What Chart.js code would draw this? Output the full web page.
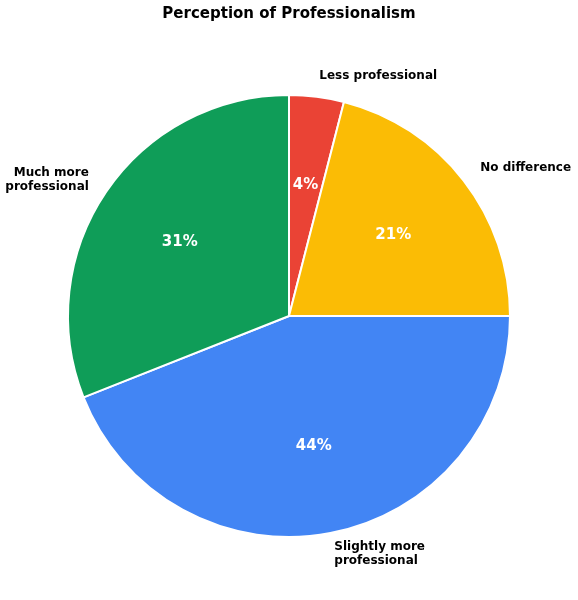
<!DOCTYPE html>
<html>
<head>
  <title>Perception of Professionalism</title>
  <script src="https://cdn.jsdelivr.net/npm/chart.js"></script>
</head>
<body style="margin: 0; background: white;">
  <canvas id="pieChart" width="578" height="600" style="display: block;"></canvas>
  <script>
    const categories = ['Less professional', 'No difference', 'Slightly more\nprofessional', 'Much more\nprofessional'];
    const shares = [4, 21, 44, 31];
    const colors = ['#EA4335', '#FBBC05', '#4285F4', '#0F9D58'];

    const FONT = '"DejaVu Sans", sans-serif';

    // title, outside labels (matplotlib style, 1.1 r) and percentages (0.6 r)
    const labelPlugin = {
      id: 'labels',
      afterDraw(chart) {
        const ctx = chart.ctx;
        ctx.save();
        ctx.fillStyle = '#000';
        ctx.font = 'bold 15px ' + FONT;
        ctx.textAlign = 'center';
        ctx.textBaseline = 'middle';
        ctx.fillText('Perception of Professionalism', 289, 14);

        const total = shares.reduce((a, b) => a + b, 0);
        chart.getDatasetMeta(0).data.forEach((arc, i) => {
          const p = arc.getProps(['x', 'y', 'startAngle', 'endAngle', 'outerRadius'], true);
          const r = 220;
          const mid = (p.startAngle + p.endAngle) / 2;
          const cos = Math.cos(mid), sin = Math.sin(mid);

          // label
          const lx = p.x + cos * r * 1.1;
          const ly = p.y + sin * r * 1.1;
          const lines = categories[i].split('\n');
          ctx.font = 'bold 12px ' + FONT;
          ctx.fillStyle = '#000';
          ctx.textAlign = cos >= 0 ? 'left' : 'right';
          const lh = 14;
          lines.forEach((ln, k) => {
            ctx.fillText(ln, lx, ly + (k - (lines.length - 1) / 2) * lh);
          });

          // percentage
          const px = p.x + cos * r * 0.6;
          const py = p.y + sin * r * 0.6;
          ctx.font = 'bold 15px ' + FONT;
          ctx.fillStyle = '#fff';
          ctx.textAlign = 'center';
          ctx.fillText(Math.round(shares[i] / total * 100) + '%', px, py);
        });
        ctx.restore();
      }
    };

    const ctx = document.getElementById('pieChart').getContext('2d');
    new Chart(ctx, {
      type: 'pie',
      data: {
        labels: categories,
        datasets: [{
          data: shares,
          backgroundColor: colors,
          borderColor: '#ffffff',
          borderWidth: 2
        }]
      },
      options: {
        responsive: false,
        animation: false,
        layout: { padding: { top: 94, bottom: 62, left: 0, right: 0 } },
        plugins: {
          legend: { display: false },
          tooltip: { enabled: false }
        }
      },
      plugins: [labelPlugin]
    });
  </script>
</body>
</html>
